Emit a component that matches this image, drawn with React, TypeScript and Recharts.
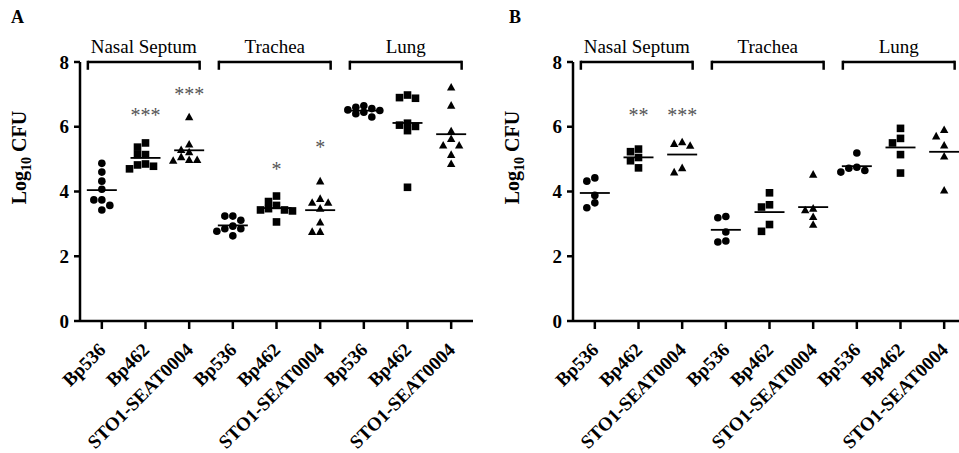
import { Label, ReferenceLine, Scatter, ScatterChart, XAxis, YAxis } from 'recharts'

// Times-like look of the original figure.
const SERIF = '"Liberation Serif", "Times New Roman", serif'
const INK = '#000000'
const STAR_INK = '#555555'

const tissues = ['Nasal Septum', 'Trachea', 'Lung']
const strains = ['Bp536', 'Bp462', 'STO1-SEAT0004']
const yTicks = [0, 2, 4, 6, 8]

// Panel A, log10 CFU per animal (n = 8)
const aNasalBp536 = [4.87, 4.6, 4.32, 4.07, 3.74, 3.74, 3.57, 3.43]
const aNasalBp462 = [5.5, 5.37, 5.14, 5.14, 4.85, 4.82, 4.78, 4.7]
const aNasalSto1 = [6.29, 5.45, 5.28, 5.21, 5.06, 4.97, 4.97, 4.95]
const aTracheaBp536 = [3.24, 3.24, 3.11, 2.93, 2.85, 2.85, 2.77, 2.63]
const aTracheaBp462 = [3.86, 3.69, 3.57, 3.47, 3.43, 3.43, 3.4, 3.06]
const aTracheaSto1 = [4.31, 3.77, 3.65, 3.65, 3.47, 3.04, 2.75, 2.75]
const aLungBp536 = [6.65, 6.6, 6.56, 6.52, 6.5, 6.45, 6.4, 6.3]
const aLungBp462 = [6.98, 6.9, 6.88, 6.11, 6.05, 6.01, 5.88, 4.13]
const aLungSto1 = [7.21, 6.65, 5.86, 5.62, 5.42, 5.42, 5.13, 4.85]

// Panel B, log10 CFU per animal (n = 5)
const bNasalBp536 = [4.42, 4.32, 3.88, 3.65, 3.5]
const bNasalBp462 = [5.31, 5.23, 5.05, 4.95, 4.73]
const bNasalSto1 = [5.52, 5.47, 5.41, 4.72, 4.59]
const bTracheaBp536 = [3.23, 3.19, 2.75, 2.47, 2.44]
const bTracheaBp462 = [3.96, 3.59, 3.52, 2.98, 2.77]
const bTracheaSto1 = [4.52, 3.47, 3.42, 3.21, 2.97]
const bLungBp536 = [5.19, 4.75, 4.72, 4.65, 4.6]
const bLungBp462 = [5.95, 5.64, 5.5, 5.14, 4.57]
const bLungSto1 = [5.9, 5.7, 5.42, 5.08, 4.03]

// significance marks: [group index 0..8, label, height]
const aStars: [number, string, number][] = [
  [1, '***', 6.47],
  [2, '***', 7.1],
  [4, '*', 4.8],
  [5, '*', 5.47],
]
const bStars: [number, string, number][] = [
  [1, '**', 6.47],
  [2, '***', 6.47],
]

const panelA = [aNasalBp536, aNasalBp462, aNasalSto1, aTracheaBp536, aTracheaBp462, aTracheaSto1, aLungBp536, aLungBp462, aLungSto1]
const panelB = [bNasalBp536, bNasalBp462, bNasalSto1, bTracheaBp536, bTracheaBp462, bTracheaSto1, bLungBp536, bLungBp462, bLungSto1]

// pixel scales of the plot, used only to spread overlapping dots sideways
const PX_PER_LOG = 32.4
const PX_PER_GROUP = 43.7
const DOT_STEP = 8
const DOT_CLEAR = 7

function swarm(values: number[], center: number) {
  const placed: { px: number; py: number }[] = []
  return values.map((v) => {
    const py = v * PX_PER_LOG
    let best = 0
    let bestGap = -1
    for (const k of [0, -1, 1, -2, 2]) {
      const px = k * DOT_STEP
      const gap = Math.min(
        Infinity,
        ...placed.map((p) => Math.max(Math.abs(p.px - px), Math.abs(p.py - py)))
      )
      if (gap >= DOT_CLEAR) {
        best = px
        bestGap = gap
        break
      }
      if (gap > bestGap) {
        best = px
        bestGap = gap
      }
    }
    placed.push({ px: best, py })
    return { x: center + best / PX_PER_GROUP, y: v }
  })
}

function buildPanel(groups: number[][], stars: [number, string, number][]) {
  const byStrain = strains.map((_, s) =>
    groups.flatMap((values, g) => (g % 3 === s ? swarm(values, g + 0.5) : []))
  )
  const means = groups.map((values, g) => ({
    x: g + 0.5,
    y: values.reduce((a, b) => a + b, 0) / values.length,
  }))
  const marks = stars.map(([g, label, y]) => ({ x: g + 0.5, y, label }))
  return { byStrain, means, marks }
}

const Dot = ({ cx, cy }: any) => <circle cx={cx} cy={cy} r={3.8} fill={INK} />
const Box = ({ cx, cy }: any) => <rect x={cx - 3.8} y={cy - 3.8} width={7.6} height={7.6} fill={INK} />
const Tri = ({ cx, cy }: any) => (
  <polygon points={`${cx},${cy - 4.6} ${cx - 4.2},${cy + 3} ${cx + 4.2},${cy + 3}`} fill={INK} />
)
const shapes = [Dot, Box, Tri]

const MeanBar = ({ cx, cy }: any) => (
  <line x1={cx - 15} x2={cx + 15} y1={cy} y2={cy} stroke={INK} strokeWidth={1.8} />
)

const StarMark = (props: any) => (
  <text x={props.cx} y={props.cy + 10} textAnchor="middle" fontSize={20} fill={STAR_INK} fontFamily={SERIF}>
    {props.payload?.label ?? props.label}
  </text>
)

const XTick = ({ x, y, payload }: any) => (
  <text
    transform={`translate(${x + 5},${y + 20}) rotate(-45)`}
    textAnchor="end"
    fontSize={19}
    fontWeight="bold"
    fontFamily={SERIF}
    fill={INK}
  >
    {strains[Math.floor(payload.value) % 3]}
  </text>
)

const YTitle = ({ viewBox }: any) => {
  const x = viewBox.x + 26
  const y = viewBox.y + viewBox.height / 2 - 34
  return (
    <text transform={`rotate(-90, ${x}, ${y})`} x={x} y={y} textAnchor="middle" fontSize={20} fontWeight="bold" fontFamily={SERIF} fill={INK}>
      <tspan>Log</tspan>
      <tspan fontSize={14} dy={5}>10</tspan>
      <tspan dy={-5}> CFU</tspan>
    </text>
  )
}

function Panel({ groups, stars }: { groups: number[][]; stars: [number, string, number][] }) {
  const { byStrain, means, marks } = buildPanel(groups, stars)
  return (
    <ScatterChart width={480} height={453} margin={{ top: 62, right: 7, bottom: 12, left: 0 }}>
      <XAxis
        type="number"
        dataKey="x"
        domain={[0, 9]}
        ticks={[0.5, 1.5, 2.5, 3.5, 4.5, 5.5, 6.5, 7.5, 8.5]}
        tick={<XTick />}
        tickSize={8}
        height={120}
        axisLine={{ stroke: INK, strokeWidth: 2.5 }}
        tickLine={{ stroke: INK, strokeWidth: 2.5 }}
        interval={0}
      />
      <YAxis
        type="number"
        dataKey="y"
        domain={[0, 8]}
        ticks={yTicks}
        width={80}
        tickSize={6}
        tickMargin={5}
        tick={{ fontSize: 19, fontWeight: 'bold', fill: INK, fontFamily: SERIF }}
        axisLine={{ stroke: INK, strokeWidth: 2.5 }}
        tickLine={{ stroke: INK, strokeWidth: 2.5 }}
      >
        <Label content={<YTitle />} />
      </YAxis>
      {tissues.map((name, t) => {
        const left = t * 3 + 0.18
        const right = t * 3 + 2.74
        return [
          <ReferenceLine
            key={`${name}-top`}
            segment={[{ x: left, y: 8 }, { x: right, y: 8 }]}
            stroke={INK}
            strokeWidth={2.5}
            ifOverflow="visible"
            label={{ value: name, position: 'top', offset: 9, fontSize: 19, fill: INK, fontFamily: SERIF }}
          />,
          <ReferenceLine key={`${name}-l`} segment={[{ x: left, y: 8.04 }, { x: left, y: 7.76 }]} stroke={INK} strokeWidth={2.5} ifOverflow="visible" />,
          <ReferenceLine key={`${name}-r`} segment={[{ x: right, y: 8.04 }, { x: right, y: 7.76 }]} stroke={INK} strokeWidth={2.5} ifOverflow="visible" />,
        ]
      })}
      {byStrain.map((data, s) => (
        <Scatter key={strains[s]} data={data} shape={shapes[s]} isAnimationActive={false} />
      ))}
      <Scatter data={means} shape={MeanBar} isAnimationActive={false} />
      <Scatter data={marks} shape={StarMark} isAnimationActive={false} />
    </ScatterChart>
  )
}

const letterStyle = {
  position: 'absolute' as const,
  top: 7,
  fontFamily: SERIF,
  fontWeight: 'bold' as const,
  fontSize: 18,
}

export default function App() {
  return (
    <div style={{ position: 'absolute', left: 0, top: 0, width: 959, height: 453, overflow: 'hidden', background: '#fff' }}>
      <div style={{ ...letterStyle, left: 11 }}>A</div>
      <div style={{ ...letterStyle, left: 509 }}>B</div>
      <div style={{ position: 'absolute', left: 0, top: 0 }}>
        <Panel groups={panelA} stars={aStars} />
      </div>
      <div style={{ position: 'absolute', left: 493, top: 0 }}>
        <Panel groups={panelB} stars={bStars} />
      </div>
    </div>
  )
}
